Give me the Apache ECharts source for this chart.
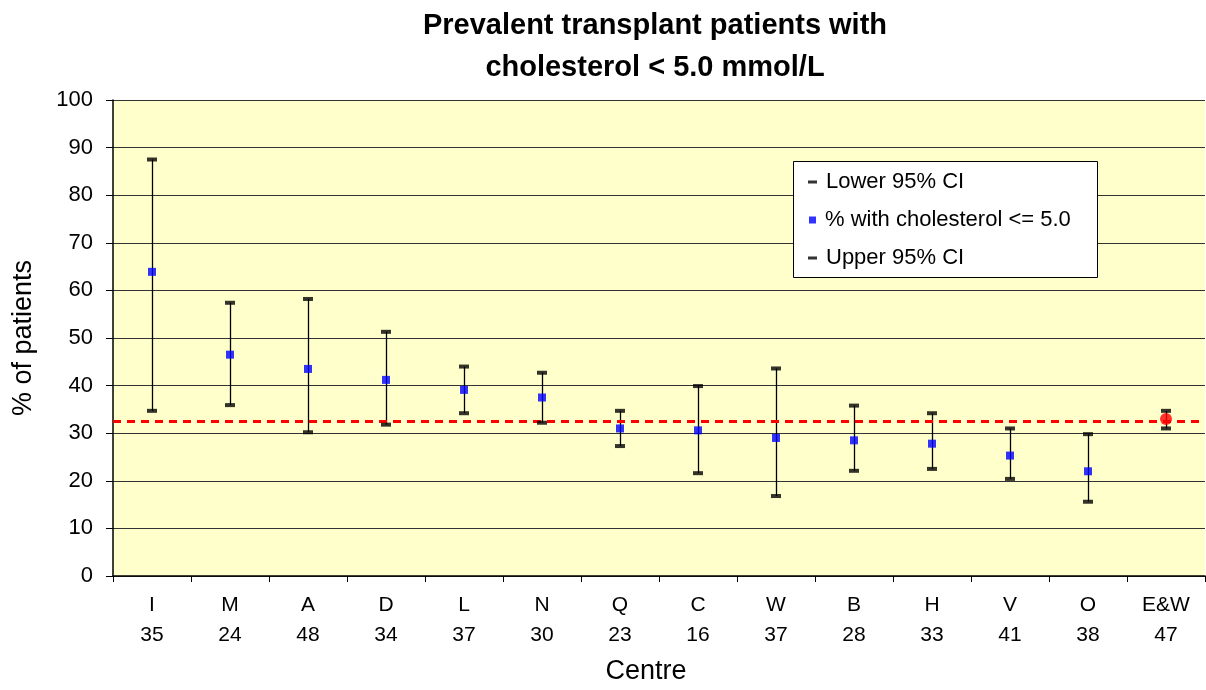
<!DOCTYPE html>
<html>
<head>
<meta charset="utf-8">
<title>Prevalent transplant patients with cholesterol &lt; 5.0 mmol/L</title>
<script src="https://cdn.jsdelivr.net/npm/echarts@6/dist/echarts.min.js"></script>
<style>
  html, body { margin: 0; padding: 0; background: #ffffff; }
  #chart { width: 1206px; height: 690px; }
</style>
</head>
<body>
<div id="chart"></div>
<script>
// Centres and number of patients per centre
const centres = ['I', 'M', 'A', 'D', 'L', 'N', 'Q', 'C', 'W', 'B', 'H', 'V', 'O', 'E&W'];
const patientCounts = [35, 24, 48, 34, 37, 30, 23, 16, 37, 28, 33, 41, 38, 47];

// % of patients with cholesterol <= 5.0 and its 95% confidence limits
const pctBelow = [63.9, 46.5, 43.5, 41.2, 39.1, 37.5, 31.0, 30.6, 29.0, 28.5, 27.8, 25.3, 22.0, 33.0];
const lower95 = [34.7, 35.9, 30.2, 31.8, 34.2, 32.2, 27.3, 21.6, 16.8, 22.1, 22.5, 20.4, 15.6, 31.0];
const upper95 = [87.5, 57.4, 58.2, 51.3, 44.0, 42.7, 34.7, 39.9, 43.6, 35.8, 34.2, 31.0, 29.8, 34.7];

// National reference level
const referenceLevel = 32.6;

// Y axis ticks
const yTicks = { min: 0, max: 100, step: 10 };

const FONT = "'Liberation Sans', Arial, sans-serif";
const LEGEND_LABELS = ['Lower 95% CI', '% with cholesterol <= 5.0', 'Upper 95% CI'];

const chart = echarts.init(document.getElementById('chart'), null, { renderer: 'canvas' });

// Mean points: the national (E&W) point is drawn as a red circle
const meanData = pctBelow.map((v, i) => centres[i] === 'E&W'
  ? { value: v, symbol: 'circle', symbolSize: 12, itemStyle: { color: '#ff0000' } }
  : v);

const whiskerData = lower95.map((lo, i) => [i, lo, upper95[i]]);

const legendRow = (name, top, w, h, left) => ({
  data: [{ name: name, icon: 'rect' }],
  left: left,
  top: top,
  z: 10,
  orient: 'vertical',
  padding: 0,
  itemWidth: w,
  itemHeight: h,
  selectedMode: false,
  textStyle: { fontFamily: FONT, fontSize: 22, color: '#000', padding: [0, 0, 0, 4] }
});

const option = {
  animation: false,
  backgroundColor: '#ffffff',
  title: {
    text: 'Prevalent transplant patients with\ncholesterol < 5.0 mmol/L',
    left: 650,
    top: 0,
    textAlign: 'center',
    textStyle: { fontFamily: FONT, fontSize: 29, fontWeight: 'bold', color: '#000', lineHeight: 42 }
  },
  grid: {
    left: 113, right: 1, top: 100, bottom: 110,
    show: true, backgroundColor: '#ffffcc', borderWidth: 0
  },
  graphic: [{
    type: 'rect',
    shape: { x: 793.5, y: 161.5, width: 304, height: 116 },
    style: { fill: '#ffffff', stroke: '#000000', lineWidth: 1 },
    z: 3
  }],
  legend: [
    legendRow(LEGEND_LABELS[0], 171, 9, 3, 808),
    legendRow(LEGEND_LABELS[1], 209, 7, 7, 809),
    legendRow(LEGEND_LABELS[2], 247, 9, 3, 808)
  ],
  xAxis: {
    type: 'category',
    data: centres,
    name: 'Centre',
    nameLocation: 'middle',
    nameGap: 82,
    nameTextStyle: { fontFamily: FONT, fontSize: 27, color: '#000', padding: [0, 26, 0, 0] },
    axisLine: { lineStyle: { color: '#000', width: 1.5 } },
    axisTick: { show: true, length: 6, lineStyle: { color: '#000' } },
    axisLabel: {
      fontFamily: FONT, fontSize: 21, color: '#000', lineHeight: 30, margin: 14,
      formatter: (v, i) => v + '\n' + patientCounts[i]
    },
    splitLine: { show: false }
  },
  yAxis: {
    type: 'value',
    min: yTicks.min, max: yTicks.max, interval: yTicks.step,
    name: '% of patients',
    nameLocation: 'middle',
    nameGap: 76,
    nameRotate: 90,
    nameTextStyle: { fontFamily: FONT, fontSize: 27, color: '#000' },
    axisLine: { show: true, lineStyle: { color: '#000', width: 1.5 } },
    axisTick: { show: true, length: 7, lineStyle: { color: '#000' } },
    axisLabel: { fontFamily: FONT, fontSize: 22, color: '#000', margin: 20 },
    splitLine: { show: true, lineStyle: { color: '#333', width: 1 } }
  },
  series: [
    {
      // confidence interval whiskers
      name: 'whiskers',
      type: 'custom',
      z: 2,
      data: whiskerData,
      encode: { x: 0, y: [1, 2] },
      renderItem: (params, api) => {
        const p1 = api.coord([api.value(0), api.value(1)]);
        const p2 = api.coord([api.value(0), api.value(2)]);
        const x = Math.round(p1[0]) + 0.5;
        return {
          type: 'line',
          shape: { x1: x, y1: p1[1], x2: x, y2: p2[1] },
          style: { stroke: '#000', lineWidth: 1.3 }
        };
      },
      markLine: {
        silent: true,
        symbol: 'none',
        label: { show: false },
        z: 3,
        lineStyle: { color: '#ff0000', type: [8, 6], width: 3 },
        data: [{ yAxis: referenceLevel }]
      }
    },
    {
      name: LEGEND_LABELS[0],
      type: 'scatter',
      z: 4,
      symbol: 'rect',
      symbolSize: [10, 4],
      itemStyle: { color: '#000' },
      data: lower95
    },
    {
      name: LEGEND_LABELS[2],
      type: 'scatter',
      z: 4,
      symbol: 'rect',
      symbolSize: [10, 4],
      itemStyle: { color: '#000' },
      data: upper95
    },
    {
      name: LEGEND_LABELS[1],
      type: 'scatter',
      z: 6,
      symbol: 'rect',
      symbolSize: 8,
      itemStyle: { color: '#0000ff' },
      data: meanData
    }
  ]
};

chart.setOption(option);
</script>
</body>
</html>
